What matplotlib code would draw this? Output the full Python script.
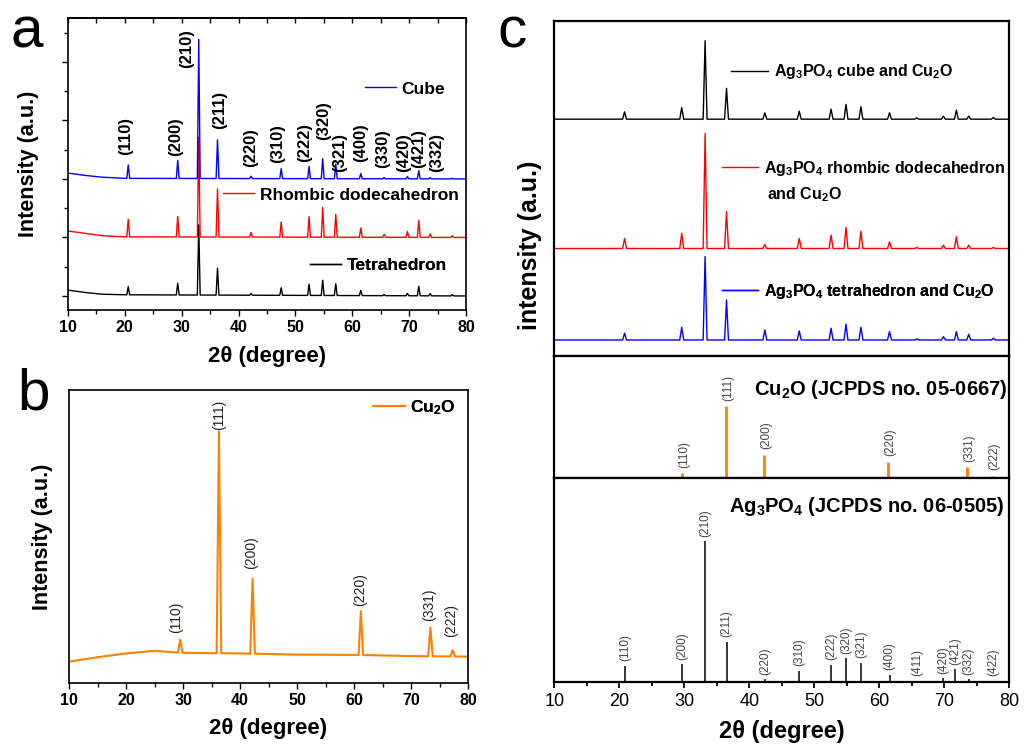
import numpy as np
import matplotlib
matplotlib.use("Agg")
import matplotlib.pyplot as plt
from matplotlib.lines import Line2D
from matplotlib.ticker import MultipleLocator

plt.rcParams['font.family'] = ['Liberation Sans', 'DejaVu Sans']
plt.rcParams['mathtext.default'] = 'regular'

# ---------------- panel a: Ag3PO4 crystals ----------------
a_pos = [20.6, 29.3, 33.0, 36.3, 42.2, 47.5, 52.4, 54.8, 57.1, 61.5, 65.6, 69.7, 71.7, 73.7, 77.6]
a_cube = [0.23, 0.31, 2.38, 0.66, 0.04, 0.17, 0.21, 0.34, 0.25, 0.09, 0.02, 0.04, 0.14, 0.02, 0.01]
a_rhomb = [0.30, 0.35, 1.70, 0.82, 0.08, 0.26, 0.35, 0.51, 0.39, 0.16, 0.05, 0.10, 0.29, 0.06, 0.03]
a_tetra = [0.14, 0.20, 1.20, 0.46, 0.03, 0.13, 0.19, 0.26, 0.20, 0.09, 0.02, 0.04, 0.16, 0.04, 0.02]
a_base_x = [10, 13, 16, 20, 80]
a_base_cube = [2.10, 2.06, 2.03, 2.01, 2.0]
a_base_rhomb = [1.11, 1.07, 1.03, 1.01, 1.0]
a_base_tetra = [0.10, 0.06, 0.03, 0.02, 0.0]
a_labels = ['(110)', '(200)', '(210)', '(211)', '(220)', '(310)', '(222)', '(320)',
            '(321)', '(400)', '(330)', '(420)', '(421)', '(332)']
a_lab_x = [20.2, 29.0, 30.8, 36.6, 42.1, 46.8, 51.7, 55.0, 57.8, 61.5, 65.3, 69.1, 71.6, 74.9]
a_lab_y = [2.41, 2.39, 3.90, 2.85, 2.21, 2.27, 2.29, 2.67, 2.12, 2.29, 2.19, 2.12, 2.19, 2.12]

# ---------------- panel b: Cu2O ----------------
b_base_x = [10, 15, 20, 25, 30, 40, 50, 60, 70, 80]
b_base_y = [7.3, 8.8, 10.1, 11.0, 10.3, 10.1, 9.7, 9.6, 9.2, 9.0]
b_pos = [29.5, 36.3, 42.2, 61.2, 73.4, 77.3]
b_h = [4.5, 75.7, 25.6, 15.0, 9.8, 2.2]
b_labels = ['(110)', '(111)', '(200)', '(220)', '(331)', '(222)']
b_lab_x = [28.8, 36.3, 41.9, 61.1, 73.2, 77.1]
b_lab_y = [17.0, 86.3, 38.9, 26.4, 21.3, 15.6]

# ---------------- panel c: composites + references ----------------
c_pos = [20.8, 29.6, 33.2, 36.5, 42.4, 47.7, 52.6, 54.9, 57.2, 61.6, 65.8, 69.9, 71.9, 73.8, 77.6]
c_cube = [2.2, 3.5, 23.4, 9.2, 1.9, 2.4, 3.0, 4.4, 3.7, 1.9, 0.4, 0.9, 2.7, 0.9, 0.5]
c_rhomb = [3.0, 4.5, 34.3, 11.0, 1.2, 3.0, 4.0, 6.3, 5.2, 2.0, 0.3, 1.0, 3.5, 1.0, 0.3]
c_tetra = [2.0, 3.8, 24.9, 11.9, 3.0, 2.7, 3.5, 4.7, 3.8, 2.5, 0.3, 1.0, 2.5, 1.7, 0.5]
c_base_x = [10, 80]
c_base_cube = [70.7, 70.7]
c_base_rhomb = [32.1, 32.1]
c_base_tetra = [4.8, 4.8]

cu_pos = [29.6, 36.4, 42.3, 61.4, 73.5, 77.4]
cu_int = [7, 100, 32.5, 23.3, 15, 3.2]
cu_labels = ['(110)', '(111)', '(200)', '(220)', '(331)', '(222)']

ag_pos = [20.9, 29.7, 33.2, 36.5, 42.4, 47.7, 52.6, 54.9, 57.2, 61.6, 65.8, 69.8, 71.7, 73.8, 77.5]
ag_int = [11.2, 12.3, 100, 28.4, 1.6, 7.6, 11.9, 16.6, 13.5, 4.8, 0.7, 2.3, 8.7, 1.6, 0.7]
ag_labels = ['(110)', '(200)', '(210)', '(211)', '(220)', '(310)', '(222)', '(320)',
             '(321)', '(400)', '(411)', '(420)', '(421)', '(332)', '(422)']

BLUE, RED, BLACK, ORANGE = '#0000ff', '#ff0000', '#000000', '#ff8000'


def pattern(pos, heights, base_x, base_y, w):
    # baseline points plus a narrow triangle for every reflection
    xs, ys = [], []
    for bx, by in zip(base_x, base_y):
        if all(abs(bx - p) > w for p in pos):
            xs.append(bx)
            ys.append(by)
    for p, h in zip(pos, heights):
        b = np.interp(p, base_x, base_y)
        xs += [p - w, p, p + w]
        ys += [b, b + h, b]
    order = np.argsort(xs, kind='stable')
    return np.array(xs)[order], np.array(ys)[order]


def key(ax, color, text, x, y, fs, hl, pad, lw=1.0):
    h = Line2D([], [], color=color, lw=lw)
    leg = ax.legend([h], [text], loc='center left', bbox_to_anchor=(x, y),
                    frameon=False, handlelength=hl, handletextpad=pad,
                    borderpad=0, borderaxespad=0,
                    prop={'size': fs, 'weight': 'bold'})
    ax.add_artist(leg)


fig = plt.figure(figsize=(10.3, 7.45), dpi=100)

# ======== a ========
ax = fig.add_axes([0.0660, 0.5839, 0.3864, 0.3919])
for series, base, col in [(a_tetra, a_base_tetra, BLACK),
                          (a_rhomb, a_base_rhomb, RED),
                          (a_cube, a_base_cube, BLUE)]:
    x, y = pattern(a_pos, series, a_base_x, base, 0.25)
    ax.plot(x, y, color=col, lw=1.0)
for t, x, y in zip(a_labels, a_lab_x, a_lab_y):
    ax.text(x, y, t, rotation=90, ha='center', va='bottom', fontsize=12, fontweight='bold')
key(ax, BLUE, 'Cube', 0.746, 0.757, 12.5, 1.8, 0.3)
key(ax, RED, 'Rhombic dodecahedron', 0.389, 0.394, 12.5, 1.8, 0.33)
key(ax, BLACK, 'Tetrahedron', 0.608, 0.154, 12.5, 1.8, 0.3)
ax.set_xlim(10, 80)
ax.set_ylim(-0.24, 4.75)
ax.xaxis.set_major_locator(MultipleLocator(10))
ax.xaxis.set_minor_locator(MultipleLocator(5))
ax.yaxis.set_major_locator(MultipleLocator(1))
ax.yaxis.set_minor_locator(MultipleLocator(0.5))
ax.tick_params(axis='x', which='both', direction='out', labelsize=11.5, pad=3)
ax.tick_params(axis='x', which='major', length=4.5, width=1.0)
ax.tick_params(axis='x', which='minor', length=3, width=1.0)
ax.tick_params(axis='y', which='major', direction='out', length=4.5, width=1.0, labelleft=False)
ax.tick_params(axis='y', which='minor', direction='out', length=3.2, width=1.0)
for lab in ax.get_xticklabels():
    lab.set_fontweight('bold')
top = ax.secondary_xaxis('top')
top.xaxis.set_major_locator(MultipleLocator(5))
top.tick_params(direction='in', length=3.5, width=1.0, labeltop=False)
for s in ax.spines.values():
    s.set_linewidth(1.2)
top.spines['top'].set_linewidth(1.2)
ax.set_xlabel('2θ (degree)', fontsize=16, fontweight='bold')
ax.set_ylabel('Intensity (a.u.)', fontsize=15.5, fontweight='bold')
ax.xaxis.set_label_coords(0.5, -0.123)
ax.yaxis.set_label_coords(-0.073, 0.5)

# ======== b ========
ax = fig.add_axes([0.0670, 0.0832, 0.3874, 0.3933])
x, y = pattern(b_pos, b_h, b_base_x, b_base_y, 0.4)
ax.plot(x, y, color=ORANGE, lw=1.5)
for t, x, y in zip(b_labels, b_lab_x, b_lab_y):
    ax.text(x, y, t, rotation=90, ha='center', va='bottom', fontsize=10, color='#222222')
key(ax, ORANGE, 'Cu$_2$O', 0.762, 0.939, 12.5, 1.85, 0.25, lw=1.5)
ax.set_xlim(10, 80)
ax.set_ylim(0, 100)
ax.xaxis.set_major_locator(MultipleLocator(10))
ax.xaxis.set_minor_locator(MultipleLocator(5))
ax.tick_params(axis='x', which='both', direction='out', labelsize=11.5, pad=3)
ax.tick_params(axis='x', which='major', length=4.5, width=1.0)
ax.tick_params(axis='x', which='minor', length=3, width=1.0)
ax.tick_params(axis='y', left=False, labelleft=False)
for lab in ax.get_xticklabels():
    lab.set_fontweight('bold')
for s in ax.spines.values():
    s.set_linewidth(1.2)
ax.set_xlabel('2θ (degree)', fontsize=16, fontweight='bold')
ax.set_ylabel('Intensity (a.u.)', fontsize=15.5, fontweight='bold')
ax.xaxis.set_label_coords(0.5, -0.119)
ax.yaxis.set_label_coords(-0.040, 0.5)

# ======== c ========
c1 = fig.add_axes([0.5383, 0.5221, 0.4413, 0.4497])
c2 = fig.add_axes([0.5383, 0.3580, 0.4413, 0.1642])
c3 = fig.add_axes([0.5383, 0.0850, 0.4413, 0.2730])

for series, base, col in [(c_cube, c_base_cube, BLACK),
                          (c_rhomb, c_base_rhomb, RED),
                          (c_tetra, c_base_tetra, BLUE)]:
    x, y = pattern(c_pos, series, c_base_x, base, 0.3)
    c1.plot(x, y, color=col, lw=1.0)
c1.set_ylim(0, 100)
key(c1, BLACK, 'Ag$_3$PO$_4$ cube and Cu$_2$O', 0.388, 0.849, 11.5, 2.3, 0.38)
key(c1, RED, 'Ag$_3$PO$_4$ rhombic dodecahedron', 0.368, 0.560, 11.5, 2.25, 0.42)
c1.text(0.467, 0.481, 'and Cu$_2$O', transform=c1.transAxes, ha='left', va='center',
        fontsize=11.5, fontweight='bold')
key(c1, BLUE, 'Ag$_3$PO$_4$ tetrahedron and Cu$_2$O', 0.368, 0.194, 11.5, 2.25, 0.42)
c1.set_ylabel('intensity (a.u.)', fontsize=18, fontweight='bold')
c1.yaxis.set_label_coords(-0.028, 0.331)

c2.vlines(cu_pos, 0, cu_int, color=ORANGE, lw=2.0)
for p, h, t in zip(cu_pos, cu_int, cu_labels):
    c2.annotate(t, (p, h), xytext=(1.5, 4), textcoords='offset points', rotation=90,
                ha='center', va='bottom', fontsize=8.5, color='#444444')
c2.set_ylim(0, 170)
c2.text(0.9956, 0.722, 'Cu$_2$O (JCPDS no. 05-0667)', transform=c2.transAxes,
        ha='right', va='center', fontsize=14.5, fontweight='bold')

c3.vlines(ag_pos, 0, ag_int, color=BLACK, lw=1.1)
for p, h, t in zip(ag_pos, ag_int, ag_labels):
    c3.annotate(t, (p, h), xytext=(0, 3.5), textcoords='offset points', rotation=90,
                ha='center', va='bottom', fontsize=8.5, color='#444444')
c3.set_ylim(0, 145)
c3.text(0.991, 0.860, 'Ag$_3$PO$_4$ (JCPDS no. 06-0505)', transform=c3.transAxes,
        ha='right', va='center', fontsize=14.5, fontweight='bold')

for a in (c1, c2, c3):
    a.set_xlim(10, 80)
    a.set_yticks([])
    for s in a.spines.values():
        s.set_linewidth(1.6)
for a in (c1, c2):
    a.set_xticks([])
c3.xaxis.set_major_locator(MultipleLocator(10))
c3.xaxis.set_minor_locator(MultipleLocator(5))
c3.tick_params(axis='x', which='both', direction='out', labelsize=13, pad=4)
c3.tick_params(axis='x', which='major', length=4, width=1.3)
c3.tick_params(axis='x', which='minor', length=3, width=1.3)
c3.set_xlabel('2θ (degree)', fontsize=17, fontweight='bold')
c3.xaxis.set_label_coords(0.5, -0.188)

# panel letters
fig.text(0.010, 1 - 48 / 745, 'a', fontsize=42, va='baseline')
fig.text(0.017, 1 - 410 / 745, 'b', fontsize=42, va='baseline')
fig.text(0.483, 1 - 48 / 745, 'c', fontsize=42, va='baseline')

fig.savefig('out.png', dpi=100)
